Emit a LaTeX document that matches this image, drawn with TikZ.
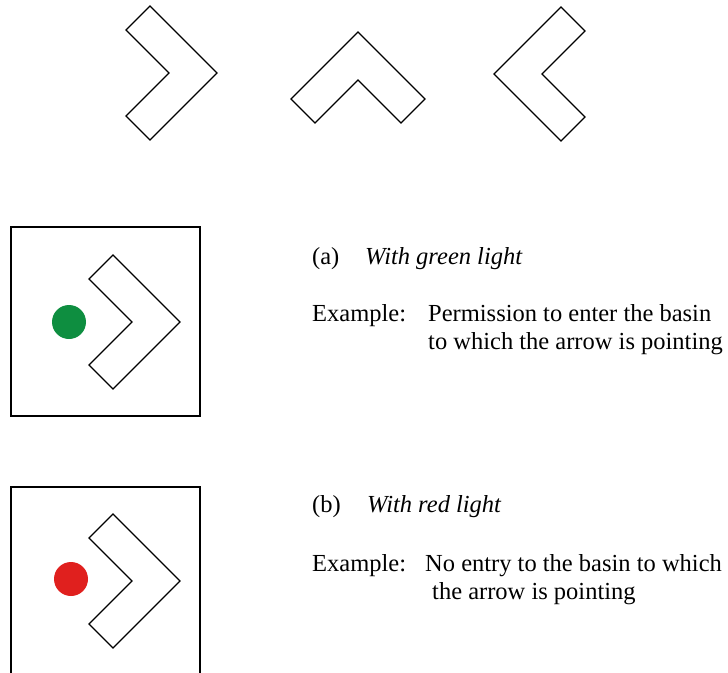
\documentclass[tikz,border=0pt]{standalone}
\usepackage{fontspec}
\setmainfont{Liberation Serif}
\usetikzlibrary{positioning}
\definecolor{lampgreen}{RGB}{14,142,64}
\definecolor{lampred}{RGB}{224,32,30}
\tikzset{
    outline/.style={draw, line width=1.3pt, line join=miter},
    frame/.style={draw, line width=1.4pt},
    lamp/.style={circle, minimum size=34pt, inner sep=0pt},
    txt/.style={inner sep=0pt, anchor=base west, font=\fontsize{24.5}{28}\selectfont},
    chevron/.pic={
        \draw[outline] (0,0) -- (-67,-67) -- (-91,-43) -- (-48,0) -- (-91,43) -- (-67,67) -- cycle;
    }
}

\begin{document}
\begin{tikzpicture}[x=1pt, y=-1pt]
    \useasboundingbox (0,0) rectangle (728,672);
    \clip (0,0) rectangle (728,672);

    % Arrow directions
    \pic at (217,73) {chevron};
    \pic[rotate=90] at (358,32) {chevron};
    \pic[rotate=180] at (494,74) {chevron};

    % Panel (a)
    \draw[frame] (11,227) rectangle (200,416);
    \pic at (180,322) {chevron};
    \node[lamp, fill=lampgreen] (green) at (69,322) {};

    % Panel (b)
    \draw[frame] (11,487) rectangle (200,676);
    \pic at (180,581) {chevron};
    \node[lamp, fill=lampred] (red) at (71,579) {};

    % Texts (a)
    \node[txt] (tagA) at (312,264) {(a)};
    \node[txt] (titleA) at (365,264) {\itshape With green light};
    \node[txt] (exA) at (312,321) {Example:};
    \node[txt] (lineA1) at (428,321) {Permission to enter the basin};
    \node[txt] (lineA2) at (428,349) {to which the arrow is pointing};

    % Texts (b)
    \node[txt] (tagB) at (312,512) {(b)};
    \node[txt] (titleB) at (367,512) {\itshape With red light};
    \node[txt] (exB) at (312,571) {Example:};
    \node[txt] (lineB1) at (425,571) {No entry to the basin to which};
    \node[txt] (lineB2) at (432,599) {the arrow is pointing};
\end{tikzpicture}
\end{document}
